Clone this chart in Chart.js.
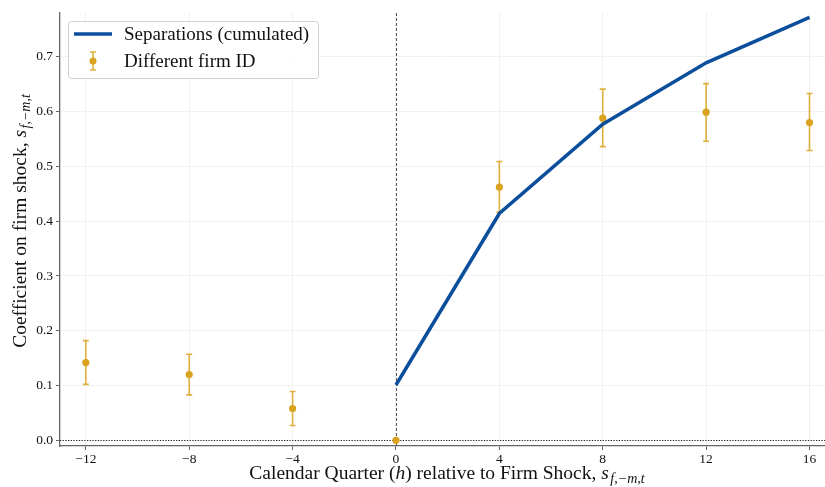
<!DOCTYPE html>
<html>
<head>
<meta charset="utf-8">
<script src="https://cdn.jsdelivr.net/npm/chart.js@4.4.1/dist/chart.umd.min.js"></script>
<style>
  html, body { margin: 0; padding: 0; background: #fff; }
  #wrap { width: 825px; height: 487px; }
</style>
</head>
<body>
<div id="wrap"><canvas id="chart" width="825" height="487"></canvas></div>
<script>
// Data
const quarters = [-12, -8, -4, 0, 4, 8, 12, 16];
const coefDiffFirm = [0.142, 0.120, 0.058, 0.000, 0.462, 0.588, 0.599, 0.580];
const ciLow = [0.102, 0.083, 0.027, null, 0.416, 0.536, 0.546, 0.529];
const ciHigh = [0.182, 0.157, 0.089, null, 0.509, 0.641, 0.651, 0.633];
const sepQuarters = [0, 4, 8, 12, 16];
const sepCumulated = [0.101, 0.414, 0.577, 0.689, 0.772];
const xTicks = [-12, -8, -4, 0, 4, 8, 12, 16];
const yTicks = [0.0, 0.1, 0.2, 0.3, 0.4, 0.5, 0.6, 0.7];

const BLUE = '#0b4f9c';
const GOLD = '#d9a21f';
const SERIF = '"Liberation Serif", "DejaVu Serif", serif';

// Draw "text s_{f,-m,t}" with a math subscript, starting at x (left aligned)
function drawMathLabel(ctx, x, y, text, size) {
    ctx.font = size + 'px ' + SERIF;
    ctx.fillText(text, x, y);
    x += ctx.measureText(text).width;
    ctx.font = 'italic ' + size + 'px ' + SERIF;
    ctx.fillText('s', x, y);
    x += ctx.measureText('s').width + 1.5;
    const sub = Math.round(size * 0.72);
    ctx.font = 'italic ' + sub + 'px ' + SERIF;
    ctx.fillText('f,\u2212m,t', x, y + size * 0.22);
}
function mathLabelWidth(ctx, text, size) {
    ctx.font = size + 'px ' + SERIF;
    let w = ctx.measureText(text).width;
    ctx.font = 'italic ' + size + 'px ' + SERIF;
    w += ctx.measureText('s').width + 1.5;
    ctx.font = 'italic ' + Math.round(size * 0.72) + 'px ' + SERIF;
    w += ctx.measureText('f,\u2212m,t').width;
    return w;
}

// error bars + reference lines, behind the datasets
const errorBars = {
    id: 'errorBars',
    beforeDatasetsDraw(chart) {
        const { ctx, chartArea, scales: { x, y } } = chart;
        ctx.save();
        // zero line (dotted)
        ctx.strokeStyle = '#222';
        ctx.lineWidth = 1;
        ctx.setLineDash([1.2, 1.5]);
        ctx.beginPath();
        ctx.moveTo(chartArea.left, Math.round(y.getPixelForValue(0)) + 0.5);
        ctx.lineTo(chartArea.right, Math.round(y.getPixelForValue(0)) + 0.5);
        ctx.stroke();
        // event line (dashed)
        ctx.strokeStyle = '#555';
        ctx.setLineDash([3, 2]);
        ctx.beginPath();
        ctx.moveTo(Math.round(x.getPixelForValue(0)) + 0.5, chartArea.top);
        ctx.lineTo(Math.round(x.getPixelForValue(0)) + 0.5, chartArea.bottom);
        ctx.stroke();
        ctx.setLineDash([]);

        ctx.strokeStyle = 'rgba(217,162,31,0.85)';
        ctx.lineWidth = 1.6;
        quarters.forEach((q, i) => {
            if (ciLow[i] === null) return;
            const px = x.getPixelForValue(q);
            const lo = y.getPixelForValue(ciLow[i]);
            const hi = y.getPixelForValue(ciHigh[i]);
            ctx.beginPath();
            ctx.moveTo(px, lo); ctx.lineTo(px, hi);
            ctx.moveTo(px - 3, lo); ctx.lineTo(px + 3, lo);
            ctx.moveTo(px - 3, hi); ctx.lineTo(px + 3, hi);
            ctx.stroke();
        });
        ctx.restore();
    }
};

// axis titles and legend box
const annotations = {
    id: 'annotations',
    afterDraw(chart) {
        const ctx = chart.ctx;
        ctx.save();
        ctx.fillStyle = '#111';
        ctx.textBaseline = 'alphabetic';

        // x title
        const xt = 'Calendar Quarter (';
        const size = 19.5;
        ctx.font = size + 'px ' + SERIF;
        const w1 = ctx.measureText(xt).width;
        ctx.font = 'italic ' + size + 'px ' + SERIF;
        const wh = ctx.measureText('h').width;
        const rest = ') relative to Firm Shock, ';
        const wRest = mathLabelWidth(ctx, rest, size);
        let x0 = 447 - (w1 + wh + wRest) / 2;
        const yb = 479;
        ctx.font = size + 'px ' + SERIF;
        ctx.fillText(xt, x0, yb);
        ctx.font = 'italic ' + size + 'px ' + SERIF;
        ctx.fillText('h', x0 + w1, yb);
        drawMathLabel(ctx, x0 + w1 + wh, yb, rest, size);

        // y title (rotated)
        ctx.save();
        ctx.translate(26, 221);
        ctx.rotate(-Math.PI / 2);
        const yTitle = 'Coefficient on firm shock, ';
        const wy = mathLabelWidth(ctx, yTitle, size);
        drawMathLabel(ctx, -wy / 2, 0, yTitle, size);
        ctx.restore();

        // legend
        const lx = 68, ly = 21, lw = 250, lh = 57;
        ctx.fillStyle = 'rgba(255,255,255,0.85)';
        ctx.strokeStyle = '#d0d0d0';
        ctx.lineWidth = 1;
        ctx.beginPath();
        ctx.roundRect(lx + 0.5, ly + 0.5, lw, lh, 3);
        ctx.fill();
        ctx.stroke();

        ctx.strokeStyle = BLUE;
        ctx.lineWidth = 3.5;
        ctx.beginPath();
        ctx.moveTo(74, 34); ctx.lineTo(112, 34);
        ctx.stroke();

        ctx.strokeStyle = 'rgba(217,162,31,0.85)';
        ctx.lineWidth = 1.6;
        ctx.beginPath();
        ctx.moveTo(93, 52); ctx.lineTo(93, 70);
        ctx.moveTo(90, 52); ctx.lineTo(96, 52);
        ctx.moveTo(90, 70); ctx.lineTo(96, 70);
        ctx.stroke();
        ctx.fillStyle = GOLD;
        ctx.beginPath();
        ctx.arc(93, 61, 3.5, 0, Math.PI * 2);
        ctx.fill();

        ctx.fillStyle = '#111';
        ctx.font = '19px ' + SERIF;
        ctx.textBaseline = 'middle';
        ctx.fillText('Separations (cumulated)', 124, 35);
        ctx.fillText('Different firm ID', 124, 62);
        ctx.restore();
    }
};

const ctx = document.getElementById('chart').getContext('2d');
new Chart(ctx, {
    type: 'scatter',
    data: {
        datasets: [
            {
                type: 'line',
                label: 'Separations (cumulated)',
                data: sepQuarters.map((q, i) => ({ x: q, y: sepCumulated[i] })),
                borderColor: BLUE,
                borderWidth: 3.5,
                pointRadius: 0,
                tension: 0,
                fill: false,
                clip: false,
                order: 0
            },
            {
                type: 'scatter',
                label: 'Different firm ID',
                data: quarters.map((q, i) => ({ x: q, y: coefDiffFirm[i] })),
                backgroundColor: GOLD,
                borderColor: GOLD,
                borderWidth: 0,
                pointRadius: 3.6,
                clip: false,
                order: 1
            }
        ]
    },
    options: {
        responsive: false,
        animation: false,
        layout: { autoPadding: false, padding: { top: 13, right: 0, left: 0, bottom: 0 } },
        plugins: {
            legend: { display: false },
            tooltip: { enabled: false }
        },
        scales: {
            x: {
                type: 'linear',
                min: -13,
                max: 16.6,
                afterBuildTicks: (scale) => { scale.ticks = xTicks.map(v => ({ value: v })); },
                afterFit: (scale) => { scale.height = 41; },
                ticks: {
                    color: '#111',
                    font: { family: SERIF, size: 13.5 },
                    padding: 1,
                    maxRotation: 0,
                    callback: (v) => String(v).replace('-', '\u2212')
                },
                grid: { color: '#f1f1f1', lineWidth: 1, tickLength: 4, tickColor: '#666' },
                border: { color: '#666', width: 1.3 }
            },
            y: {
                type: 'linear',
                min: -0.0104,
                max: 0.78,
                afterBuildTicks: (scale) => { scale.ticks = yTicks.map(v => ({ value: v })); },
                afterFit: (scale) => { scale.width = 60; },
                ticks: {
                    color: '#111',
                    font: { family: SERIF, size: 13.5 },
                    padding: 3,
                    callback: (v) => v.toFixed(1)
                },
                grid: { color: '#f1f1f1', lineWidth: 1, tickLength: 4, tickColor: '#666' },
                border: { color: '#666', width: 1.3 }
            }
        }
    },
    plugins: [errorBars, annotations]
});
</script>
</body>
</html>
